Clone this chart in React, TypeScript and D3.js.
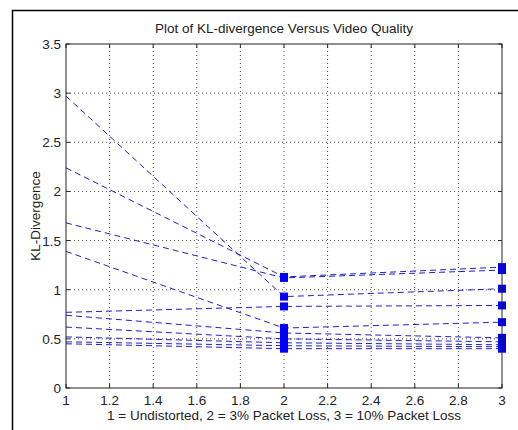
import React from 'react';
import * as d3 from 'd3';

// x positions: 1 = undistorted, 2 = 3% loss, 3 = 10% loss
const conditions = [1, 2, 3];

// KL-divergence per video
const series = [
  [2.97, 0.93, 1.01],
  [2.24, 1.13, 1.23],
  [1.68, 1.12, 1.20],
  [1.39, 0.61, 0.67],
  [0.77, 0.83, 0.84],
  [0.74, 0.56, 0.51],
  [0.62, 0.50, 0.47],
  [0.52, 0.46, 0.44],
  [0.47, 0.43, 0.42],
  [0.45, 0.40, 0.40],
];

const xTicks = [1, 1.2, 1.4, 1.6, 1.8, 2, 2.2, 2.4, 2.6, 2.8, 3];
const yTicks = [0, 0.5, 1, 1.5, 2, 2.5, 3, 3.5];

const W = 518;
const H = 430;
const margin = { top: 44, right: 16, bottom: 42, left: 66 };
const font = 'Liberation Sans, Arial, sans-serif';

export default function App() {
  const x = d3.scaleLinear().domain([1, 3]).range([margin.left, W - margin.right]);
  const y = d3.scaleLinear().domain([0, 3.5]).range([H - margin.bottom, margin.top]);
  const line = d3.line<number>()
    .x((_, i) => x(conditions[i]))
    .y(d => y(d));
  const [x0, x1] = x.range();
  const [y0, y1] = y.range();
  const ms = 8;

  return (
    <svg width={W} height={H} style={{ position: 'absolute', left: 0, top: 0, background: '#fff' }}>
      {/* figure frame */}
      <path d={`M12.5,${H} V10.5 H${W}`} fill="none" stroke="#000" strokeWidth={1.5} />

      {/* grid */}
      {xTicks.slice(1, -1).map(t => (
        <line key={'gx' + t} x1={x(t)} x2={x(t)} y1={y0} y2={y1}
          stroke="#555" strokeWidth={1} strokeDasharray="1,3" />
      ))}
      {yTicks.slice(1, -1).map(t => (
        <line key={'gy' + t} x1={x0} x2={x1} y1={y(t)} y2={y(t)}
          stroke="#555" strokeWidth={1} strokeDasharray="1,3" />
      ))}

      {/* data */}
      {series.map((s, i) => (
        <path key={'l' + i} d={line(s) || ''} fill="none" stroke="#2020c8"
          strokeWidth={1} strokeDasharray="6,4" />
      ))}
      {series.map((s, i) =>
        s.slice(1).map((v, j) => (
          <rect key={`m${i}-${j}`} x={x(conditions[j + 1]) - ms / 2} y={y(v) - ms / 2}
            width={ms} height={ms} fill="#0000ff" />
        ))
      )}

      {/* axes box */}
      <rect x={x0} y={y1} width={x1 - x0} height={y0 - y1} fill="none" stroke="#222" strokeWidth={1} />
      {xTicks.map(t => (
        <g key={'tx' + t}>
          <line x1={x(t)} x2={x(t)} y1={y0} y2={y0 - 4} stroke="#222" />
          <line x1={x(t)} x2={x(t)} y1={y1} y2={y1 + 4} stroke="#222" />
          <text x={x(t)} y={y0 + 17} textAnchor="middle" fontFamily={font} fontSize={13.5} fill="#222">{t}</text>
        </g>
      ))}
      {yTicks.map(t => (
        <g key={'ty' + t}>
          <line x1={x0} x2={x0 + 4} y1={y(t)} y2={y(t)} stroke="#222" />
          <line x1={x1} x2={x1 - 4} y1={y(t)} y2={y(t)} stroke="#222" />
          <text x={x0 - 5} y={y(t) + 5} textAnchor="end" fontFamily={font} fontSize={13.5} fill="#222">{t}</text>
        </g>
      ))}

      <text x={(x0 + x1) / 2} y={33} textAnchor="middle" fontFamily={font} fontSize={13.5} fill="#222">
        Plot of KL-divergence Versus Video Quality
      </text>
      <text x={(x0 + x1) / 2} y={420} textAnchor="middle" fontFamily={font} fontSize={13.5} fill="#222">
        1 = Undistorted, 2 = 3% Packet Loss, 3 = 10% Packet Loss
      </text>
      <text transform={`translate(40,${(y0 + y1) / 2}) rotate(-90)`} textAnchor="middle"
        fontFamily={font} fontSize={13.5} fill="#222">
        KL-Divergence
      </text>
    </svg>
  );
}
